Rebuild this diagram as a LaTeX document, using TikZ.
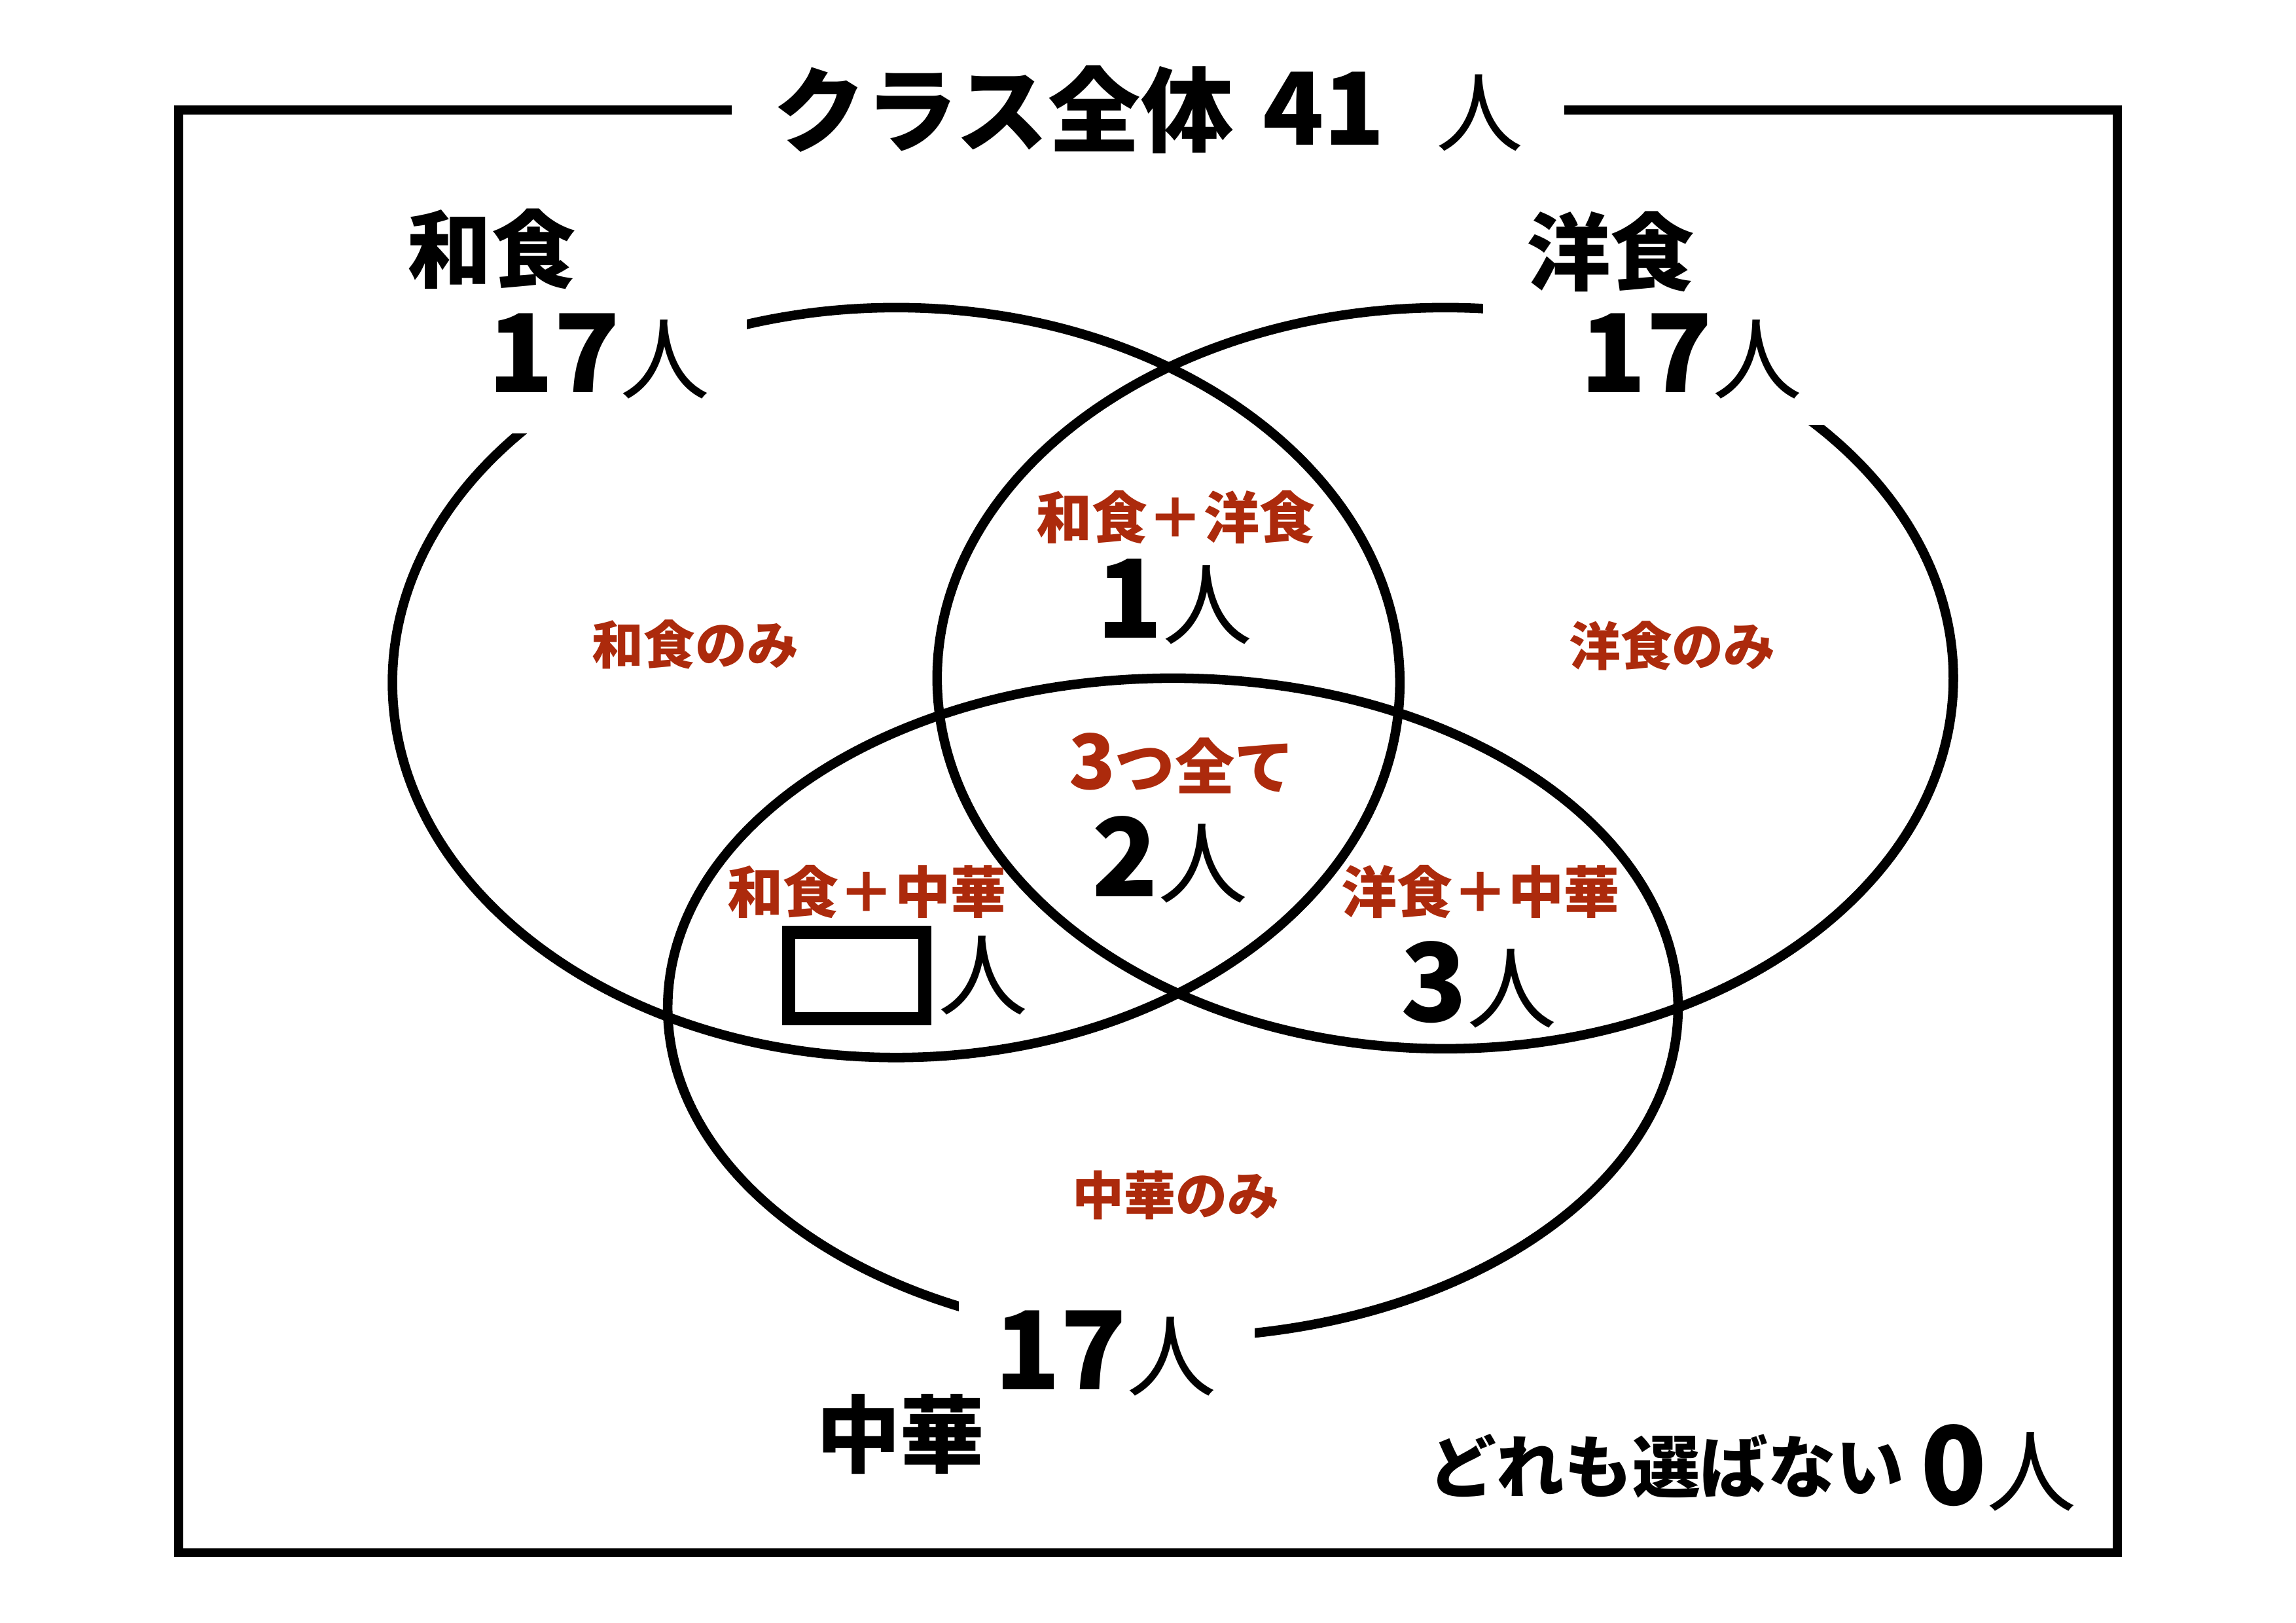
\documentclass[tikz,border=0pt]{standalone}
\usepackage{fontspec}
\newfontfamily\jp{Noto Sans CJK JP}
\usepackage{tikz}
\usetikzlibrary{positioning}
\definecolor{kred}{RGB}{172,42,12}
\newcommand{\hito}{{\mdseries\fontsize{33}{33}\selectfont 人}}
\newcommand{\nin}[1]{{\bfseries\fontsize{40}{40}\selectfont #1}\hito}
\tikzset{
  catlabel/.style={font=\jp\bfseries\fontsize{31}{31}\selectfont, inner sep=0pt},
  countlabel/.style={font=\jp, inner sep=0pt},
  regionlabel/.style={font=\jp\bfseries\fontsize{20.5}{20.5}\selectfont, text=kred, inner sep=0pt},
}

\begin{document}
\begin{tikzpicture}[x=0.018941cm, y=-0.018941cm]

	\useasboundingbox (0,0) rectangle (1568,1108);
	\fill[white] (0,0) rectangle (1568,1108);

	% whole class
	\draw[line width=3.3pt] (122,75) rectangle (1446,1060);
	\node[fill=white, minimum width=10.76cm, inner ysep=3pt, font=\jp] (title) at (784,75)
		{{\bfseries\fontsize{34}{34}\selectfont クラス全体\hspace{0.38cm}\fontsize{37}{37}\selectfont 41}\hspace{0.66cm}{\mdseries\fontsize{32}{32}\selectfont 人}};

	% three ellipses
	\draw[line width=3.5pt] (612,466) ellipse [x radius=344, y radius=256];
	\draw[line width=3.5pt] (987,463) ellipse [x radius=347, y radius=253];
	\draw[line width=3.5pt] (801,688) ellipse [x radius=345, y radius=225];

	% gaps for the totals
	\fill[white] (250,130) rectangle (510,296);
	\fill[white] (1013,130) rectangle (1320,290);
	\fill[white] (655,860) rectangle (857,965);

	% totals
	\node[catlabel] (washoku) at (336,170) {和食};
	\node[countlabel] (washokuN) at (409,243) {\nin{17}};
	\node[catlabel] (yoshoku) at (1100,172) {洋食};
	\node[countlabel] (yoshokuN) at (1155,243) {\nin{17}};
	\node[catlabel] (chuka) at (615,979) {中華};
	\node[countlabel] (chukaN) at (755,924) {\nin{17}};

	% regions
	\node[regionlabel, font=\jp\bfseries\fontsize{19}{19}\selectfont] (wOnly) at (475,440) {和食のみ};
	\node[regionlabel, font=\jp\bfseries\fontsize{19}{19}\selectfont] (yOnly) at (1142,441) {洋食のみ};
	\node[regionlabel, font=\jp\bfseries\fontsize{19}{19}\selectfont] (cOnly) at (803,816) {中華のみ};

	\node[regionlabel] (wy) at (803,353) {和食＋洋食};
	\node[countlabel] (wyN) at (802,411) {\nin{1}};

	\node[regionlabel, font=\jp\bfseries\fontsize{22}{22}\selectfont] (all) at (807,521) {{\fontsize{28}{28}\selectfont 3}つ全て};
	\node[countlabel] (allN) at (799,587) {\nin{2}};

	\node[regionlabel] (wc) at (592,609) {和食＋中華};
	\node[draw, line width=4.8pt, minimum width=1.76cm, minimum height=1.12cm, inner sep=0pt] (blank) at (585,666) {};
	\node[countlabel, right=0.08cm of blank] (blankN) {\hito};

	\node[regionlabel] (yc) at (1011,609) {洋食＋中華};
	\node[countlabel] (ycN) at (1010,672) {\nin{3}};

	% none
	\node[catlabel, font=\jp\bfseries\fontsize{25}{25}\selectfont] (none) at (1138,1001) {どれも選ばない};
	\node[countlabel] (noneN) at (1365,1002) {\nin{0}};

\end{tikzpicture}
\end{document}
